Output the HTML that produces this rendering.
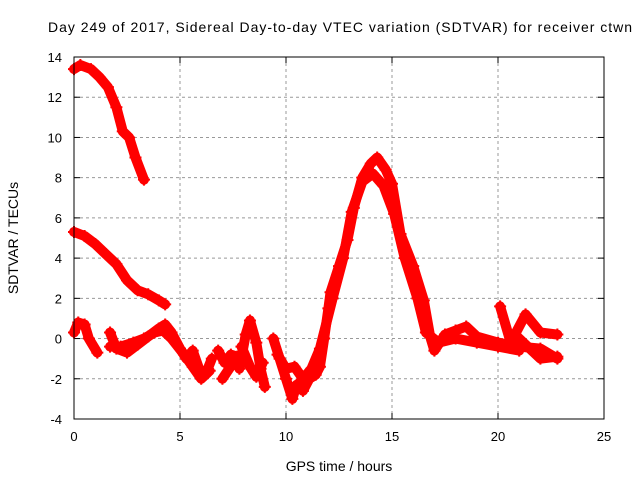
<!DOCTYPE html>
<html><head><meta charset="utf-8"><style>body{margin:0;background:#fff}svg{font-family:"Liberation Sans",sans-serif}</style></head>
<body>
<svg id="c" width="640" height="480">
<text x="340" y="32" text-anchor="middle" font-size="14" textLength="584">Day 249 of 2017, Sidereal Day-to-day VTEC variation (SDTVAR) for receiver ctwn</text>
<text x="339" y="471" text-anchor="middle" font-size="14">GPS time / hours</text>
<text transform="translate(18,238) rotate(-90)" text-anchor="middle" font-size="14">SDTVAR / TECUs</text>
<g id="grid"></g><g id="marks"></g>
<rect x="74" y="57" width="530" height="362" fill="none" stroke="#000"/>
</svg>
<script>
const xTicks=[0,5,10,15,20,25];
const yTicks=[-4,-2,0,2,4,6,8,10,12,14];
const seriesA=[[0,13.4],[0.3,13.6],[0.8,13.4],[1.2,13.0],[1.6,12.5],[2.0,11.5],[2.3,10.3],[2.6,10.0],[2.9,9.0],[3.3,7.9]];
const seriesB=[[0,5.3],[0.5,5.1],[1.0,4.7],[1.5,4.2],[2.0,3.7],[2.5,2.9],[3.0,2.4],[3.5,2.2],[4.0,1.9],[4.3,1.7]];
const seriesC=[[0,0.3],[0.2,0.8],[0.5,0.7],[0.7,0],[1.1,-0.7]];
const seriesD=[[1.7,0.3],[2.0,-0.5],[2.5,-0.7],[3.0,-0.3],[3.5,0.1],[4.0,0.5],[4.3,0.7],[4.6,0.3],[5.0,-0.5],[5.3,-1.0],[5.6,-0.6],[5.9,-1.5],[6.2,-1.8],[6.5,-1.0]];
const seriesE=[[1.7,-0.4],[2.2,-0.4],[2.8,-0.2],[3.3,0.0],[3.8,0.3],[4.2,0.4],[4.6,0.0],[5.2,-0.8],[5.6,-1.4],[6.0,-2.0],[6.4,-1.6]];
const seriesF=[[6.8,-0.6],[7.1,-1.2],[7.4,-0.8],[7.7,-0.9],[7.0,-2.0]];
const seriesG=[[7.8,-1.5],[8.1,0.2],[8.3,0.9],[8.6,-0.2],[8.8,-1.5],[9.0,-2.4]];
const seriesH=[[7.9,-0.4],[8.3,-1.4],[8.6,-1.9],[8.9,-1.2]];
const seriesI=[[9.4,0],[9.7,-1.0],[10.0,-2.0],[10.3,-3.0],[10.5,-2.3],[10.8,-2.6],[11.1,-2.0],[11.4,-1.8],[11.6,-1.4],[11.8,0],[12.0,1.5],[12.1,2.3],[12.5,3.6],[12.9,4.9],[13.2,6.5],[13.6,8.0],[14.0,8.7],[14.3,9.0],[14.7,8.4],[15.0,7.7],[15.4,5.2],[16.0,3.6],[16.5,1.9],[16.8,0.1],[17.0,-0.6],[17.5,0.2],[18.0,0.4],[18.5,0.6],[19.0,0.1],[20.0,-0.2],[21.0,-0.4],[22.0,-0.5],[22.8,-1.0]];
const seriesJ=[[9.6,-0.8],[10.0,-1.5],[10.4,-1.4],[10.8,-2.0],[11.2,-1.5],[11.6,-0.5],[12.2,2.0],[12.7,4.0],[13.1,6.3],[13.6,7.8],[14.1,8.2],[14.6,7.6],[15.1,6.2],[15.6,4.0],[16.2,2.0],[16.6,0.3],[17.2,-0.2],[18.0,0.0],[19.0,-0.2],[20.0,-0.4],[21.0,-0.6]];
const seriesK=[[20.1,1.6],[20.6,-0.2],[21.3,1.2],[22.0,0.3],[22.8,0.2]];
const seriesL=[[20.8,0.2],[21.5,-0.5],[22.0,-1.0],[22.8,-0.9]];
const allSeries=[seriesA,seriesB,seriesC,seriesD,seriesE,seriesF,seriesG,seriesH,seriesI,seriesJ,seriesK,seriesL];
const X=h=>74+h*530/25, Y=v=>419-(v+4)*362/18;
const NS="http://www.w3.org/2000/svg";
const grid=document.getElementById('grid'), marks=document.getElementById('marks');
function mk(tag,attrs,parent){const e=document.createElementNS(NS,tag);for(const k in attrs)e.setAttribute(k,attrs[k]);parent.appendChild(e);return e;}
xTicks.forEach(t=>{
 if(t>0&&t<25){const l=mk('line',{x1:X(t),x2:X(t),y1:57,y2:419,stroke:'#999','stroke-dasharray':'3,3'},grid);
 
 }
 mk('line',{x1:X(t),x2:X(t),y1:419,y2:413,stroke:'#000'},grid);
 mk('line',{x1:X(t),x2:X(t),y1:57,y2:63,stroke:'#000'},grid);
 const tx=mk('text',{x:X(t),y:441,'text-anchor':'middle','font-size':13},grid);tx.textContent=t;
 
 
});
yTicks.forEach(t=>{
 if(t>-4&&t<14){const l=mk('line',{x1:74,x2:604,y1:Y(t),y2:Y(t),stroke:'#999','stroke-dasharray':'3,3'},grid);
 
 }
 mk('line',{x1:74,x2:80,y1:Y(t),y2:Y(t),stroke:'#000'},grid);
 mk('line',{x1:604,x2:598,y1:Y(t),y2:Y(t),stroke:'#000'},grid);
 const tx=mk('text',{x:62,y:Y(t)+5,'text-anchor':'end','font-size':13},grid);tx.textContent=t;
 
 
});
allSeries.forEach((s,i)=>{
 const pl=mk('polyline',{points:s.map(p=>X(p[0])+','+Y(p[1])).join(' '),fill:'none',stroke:'#f00','stroke-width':10,'stroke-linejoin':'round','stroke-linecap':'round'},marks);
 
 
 s.forEach(p=>{const x=X(p[0]),y=Y(p[1]);
  const m=mk('path',{d:`M${x-6},${y}h12M${x},${y-6}v12`,stroke:'#f00','stroke-width':2},marks);
  
  });
});
</script>
</body></html>
